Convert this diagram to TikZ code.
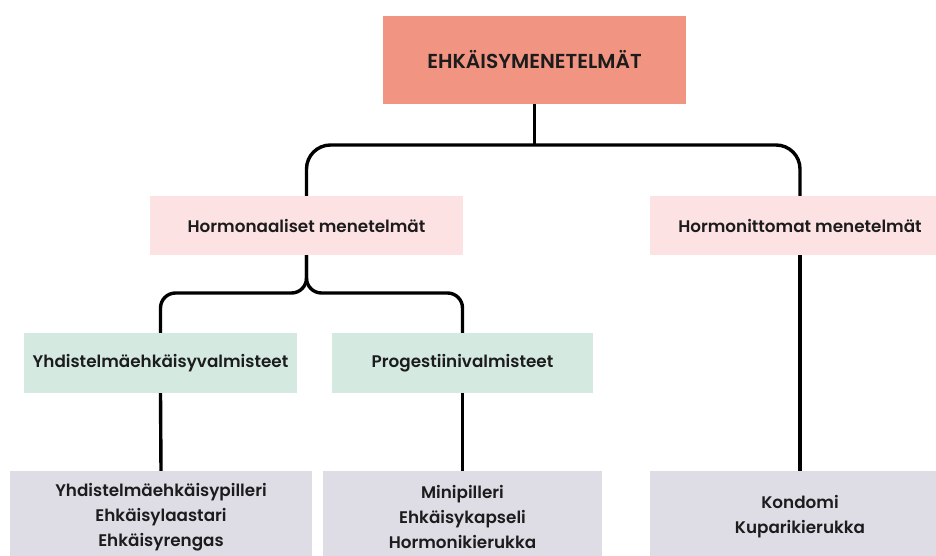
\documentclass[tikz,border=0pt]{standalone}
\usepackage{fontspec}
\setmainfont{Poppins}[BoldFont={* SemiBold}]
\begin{document}
\begin{tikzpicture}[x=1pt,y=-1pt,
  box/.style={draw=none, inner sep=0pt, align=center, text=textc,
    font=\bfseries\fontsize{16.8}{25}\selectfont},
  conn/.style={line width=3.4pt, draw=black}]
\definecolor{topc}{HTML}{F29482}
\definecolor{pinkc}{HTML}{FDE2E3}
\definecolor{greenc}{HTML}{D4EAE1}
\definecolor{greyc}{HTML}{DEDDE6}
\definecolor{textc}{HTML}{1C1C1C}
\clip (0,0) rectangle (936,556);
\fill[white] (0,0) rectangle (936,556);
\node[box, fill=topc, minimum width=303pt, minimum height=88pt, font=\bfseries\fontsize{20.2}{25}\selectfont] (t) at (534.5,60) {EHKÄISYMENETELMÄT};
\node[box, fill=pinkc, minimum width=313pt, minimum height=59pt] (h1) at (306.5,225.5) {Hormonaaliset menetelmät};
\node[box, fill=pinkc, minimum width=300pt, minimum height=59pt] (h2) at (800,225.5) {Hormonittomat menetelmät};
\node[box, fill=greenc, minimum width=273pt, minimum height=60pt] (g1) at (160.5,363) {Yhdistelmäehkäisyvalmisteet};
\node[box, fill=greenc, minimum width=261pt, minimum height=60pt] (g2) at (462.5,363) {Progestiinivalmisteet};
\node[box, fill=greyc, minimum width=302pt, minimum height=92pt] (b1) at (161,517) {Yhdistelmäehkäisypilleri\\Ehkäisylaastari\\Ehkäisyrengas};
\node[box, fill=greyc, minimum width=279pt, minimum height=92pt] (b2) at (462.5,517) {Minipilleri\\Ehkäisykapseli\\Hormonikierukka};
\node[box, fill=greyc, minimum width=300pt, minimum height=92pt] (b3) at (800,517) {Kondomi\\Kuparikierukka};
\coordinate (j1) at (534.5,145);
\coordinate (j2) at (306.5,293);
\draw[conn] (t.south) -- (j1);
\draw[conn, rounded corners=24pt] (h1.north) |- (j1) -| (h2.north);
\draw[conn, rounded corners=15pt] (h1.south) -- (j2) -| (g1.north);
\draw[conn, rounded corners=15pt] (h1.south) -- (j2) -| (g2.north);
\draw[conn] (g1.south) -- (b1.north);
\draw[conn] (g2.south) -- (b2.north);
\draw[conn] (h2.south) -- (b3.north);
\end{tikzpicture}
\end{document}
